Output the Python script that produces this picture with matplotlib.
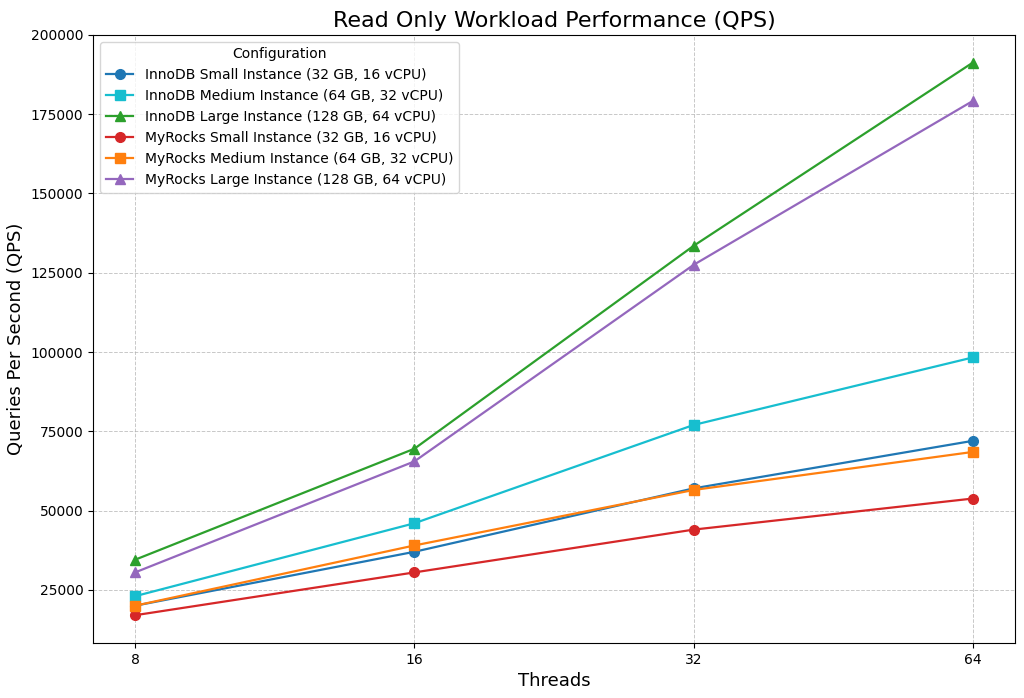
import matplotlib
matplotlib.use("Agg")
import matplotlib.pyplot as plt
from matplotlib.ticker import FixedLocator, FixedFormatter

# ── Data ──────────────────────────────────────────────────────────────────────
threads = [8, 16, 32, 64]

innodb_small = [20000, 37000, 57000, 72000]
innodb_medium = [23000, 46000, 77000, 98300]
innodb_large = [34500, 69500, 133500, 191300]
myrocks_small = [17000, 30500, 44000, 53800]
myrocks_medium = [20000, 39000, 56500, 68500]
myrocks_large = [30500, 65500, 127500, 179200]

series = [
    ("InnoDB Small Instance (32 GB, 16 vCPU)", innodb_small, "#1f77b4", "o"),
    ("InnoDB Medium Instance (64 GB, 32 vCPU)", innodb_medium, "#17becf", "s"),
    ("InnoDB Large Instance (128 GB, 64 vCPU)", innodb_large, "#2ca02c", "^"),
    ("MyRocks Small Instance (32 GB, 16 vCPU)", myrocks_small, "#d62728", "o"),
    ("MyRocks Medium Instance (64 GB, 32 vCPU)", myrocks_medium, "#ff7f0e", "s"),
    ("MyRocks Large Instance (128 GB, 64 vCPU)", myrocks_large, "#9467bd", "^"),
]

# ── Plot ──────────────────────────────────────────────────────────────────────
fig, ax = plt.subplots(figsize=(10.24, 6.98), dpi=100)

for label, vals, color, marker in series:
    ax.plot(threads, vals, marker=marker, color=color, label=label,
            linewidth=1.6, markersize=7)

ax.set_xscale("log", base=2)
ax.xaxis.set_major_locator(FixedLocator(threads))
ax.xaxis.set_major_formatter(FixedFormatter([str(t) for t in threads]))
ax.xaxis.set_minor_locator(FixedLocator([]))

ax.set_title("Read Only Workload Performance (QPS)", fontsize=16)
ax.set_xlabel("Threads", fontsize=13)
ax.set_ylabel("Queries Per Second (QPS)", fontsize=13)
ax.grid(True, linestyle="--", alpha=0.7, linewidth=0.7)
ax.legend(title="Configuration", fontsize=10, title_fontsize=10, loc="upper left")

fig.subplots_adjust(left=0.091, right=0.991, top=0.95, bottom=0.079)
plt.savefig("out.png", dpi=100)
